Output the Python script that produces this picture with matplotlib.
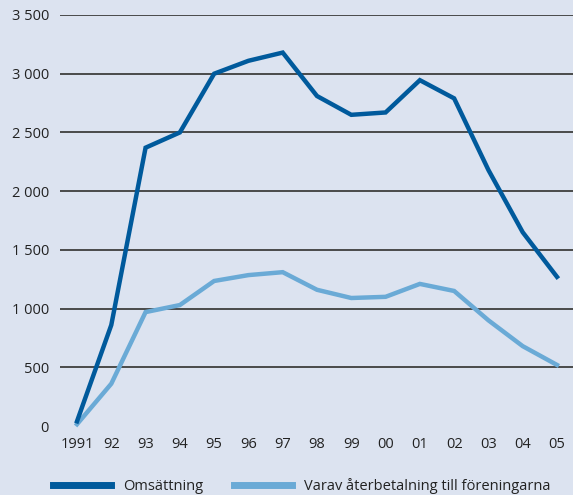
import numpy as np
import matplotlib.pyplot as plt
from matplotlib.lines import Line2D

plt.rcParams['font.family'] = ['Open Sans', 'DejaVu Sans']

# Data
years = list(range(1991, 2006))
year_labels = ["1991", "92", "93", "94", "95", "96", "97", "98", "99", "00",
               "01", "02", "03", "04", "05"]
omsattning = [40, 860, 2370, 2500, 3000, 3110, 3180, 2810, 2650, 2670,
              2945, 2790, 2180, 1650, 1270]
aterbetalning = [15, 360, 970, 1030, 1235, 1285, 1310, 1160, 1090, 1100,
                 1210, 1150, 900, 680, 520]
y_ticks = [0, 500, 1000, 1500, 2000, 2500, 3000, 3500]
y_labels = ["0", "500", "1 000", "1 500", "2 000", "2 500", "3 000", "3 500"]

bg = "#dce3f0"
dark = "#005a9c"
light = "#6aaad6"

fig = plt.figure(figsize=(5.73, 4.95), dpi=100, facecolor=bg)
ax = fig.add_axes([60/573, 1 - 426/495, 513/573, (426 - 15)/495], facecolor=bg)

for v in y_ticks[1:]:
    ax.axhline(v, color="#4a4a4a", lw=1.4, zorder=1)

ax.plot(years, omsattning, color=dark, lw=3.2, zorder=3, clip_on=False,
        solid_joinstyle="miter")
ax.plot(years, aterbetalning, color=light, lw=3.2, zorder=2, clip_on=False,
        solid_joinstyle="miter")

ax.set_xlim(1990.504, 2005.467)
ax.set_ylim(0, 3500)
ax.set_xticks(years)
ax.set_xticklabels(year_labels)
ax.set_yticks(y_ticks)
ax.set_yticklabels(y_labels)
ax.tick_params(length=0, labelsize=10.5, colors="#222222")
ax.tick_params(axis="x", pad=8)
ax.tick_params(axis="y", pad=8)
for s in ax.spines.values():
    s.set_visible(False)

handles = [Line2D([], [], color=dark, lw=5), Line2D([], [], color=light, lw=5)]
fig.legend(handles, ["Omsättning", "Varav återbetalning till föreningarna"],
           loc="center left", bbox_to_anchor=(40/573, 1 - 486/495), ncol=2,
           frameon=False, fontsize=10.5, handlelength=4.0, handletextpad=0.8,
           columnspacing=2.1, labelcolor="#222222")

fig.savefig("out.png", dpi=100, facecolor=bg)
